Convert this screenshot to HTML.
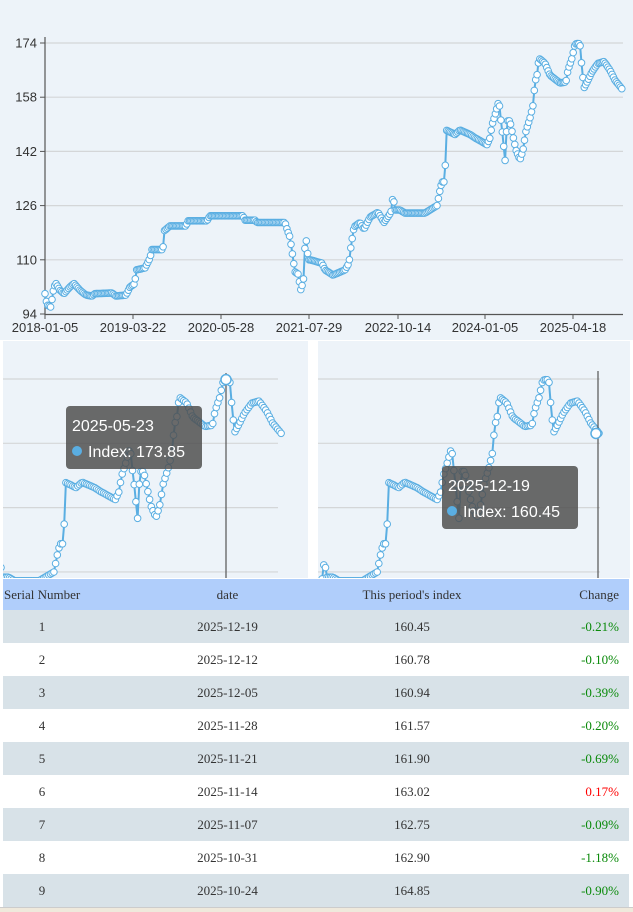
<!DOCTYPE html>
<html><head><meta charset="utf-8">
<style>
body{margin:0;width:633px;height:911px;background:#fff;overflow:hidden;font-family:"Liberation Sans",sans-serif;position:relative}
svg{position:absolute;left:0;top:0}
table{position:absolute;left:3px;top:579px;width:626px;border-collapse:collapse;table-layout:fixed;font-family:"Liberation Serif",serif;font-size:13px;color:#333}
td,th{height:33px;padding:0;font-weight:normal;text-align:center;white-space:nowrap}
th{height:31px;background:#b0cefb}
tr:nth-child(even) td{background:#d8e2e8}
.l{text-align:left;padding-left:1px}
.r{text-align:right;padding-right:10px}
.c2{padding-left:12px}
.g{color:#0a8a0a}.d{color:#f00}
#bot{position:absolute;left:0;top:907px;width:633px;height:4px;background:#efe9dc;border-top:1px solid #ccc}
</style></head><body>
<svg id="s" width="633" height="580" xmlns="http://www.w3.org/2000/svg"></svg>
<table>
<colgroup><col style="width:78px"><col style="width:281px"><col style="width:100px"><col style="width:167px"></colgroup>
<tr><th class="l">Serial Number</th><th class="c2">date</th><th>This period's index</th><th class="r">Change</th></tr>
<tr><td>1</td><td class="c2">2025-12-19</td><td>160.45</td><td class="r g">-0.21%</td></tr>
<tr><td>2</td><td class="c2">2025-12-12</td><td>160.78</td><td class="r g">-0.10%</td></tr>
<tr><td>3</td><td class="c2">2025-12-05</td><td>160.94</td><td class="r g">-0.39%</td></tr>
<tr><td>4</td><td class="c2">2025-11-28</td><td>161.57</td><td class="r g">-0.20%</td></tr>
<tr><td>5</td><td class="c2">2025-11-21</td><td>161.90</td><td class="r g">-0.69%</td></tr>
<tr><td>6</td><td class="c2">2025-11-14</td><td>163.02</td><td class="r d">0.17%</td></tr>
<tr><td>7</td><td class="c2">2025-11-07</td><td>162.75</td><td class="r g">-0.09%</td></tr>
<tr><td>8</td><td class="c2">2025-10-31</td><td>162.90</td><td class="r g">-1.18%</td></tr>
<tr><td>9</td><td class="c2">2025-10-24</td><td>164.85</td><td class="r g">-0.90%</td></tr>
</table>
<div id="bot"></div>
<script>
var W=[[45,100],[47,96.7],[51,96],[52,98.4],[54,102],[56,103],[60,101],[64,100],[70,102],[74,103],[80,101],[86,99.6],[92,99.3],[95,100],[112,100.2],[116,99.3],[126,99.6],[130,102],[135,103],[136,107],[145,107.6],[150,110.5],[152,113],[163,113],[164,118.5],[170,120],[186,120],[188,121.5],[207,121.5],[210,123],[243,123],[245,121.7],[255,121.7],[257,121],[285,121],[287,119],[290,116.7],[292,112.6],[295,106.4],[298,105.8],[300,102.5],[301,100.8],[304,105],[305,114],[307,116.4],[308,110],[310,110],[322,109],[325,107],[333,105.5],[345,107],[349,109],[351,114],[354,119.7],[360,121],[364,119],[370,122.6],[378,124],[384,121],[391,124],[393,129],[395,124.7],[400,124.7],[405,123.8],[425,123.8],[437,126],[440,130.6],[442,133],[445,133],[446,148.3],[455,147],[460,148.3],[470,147],[475,146],[487,144],[490,146],[492,149.8],[495,152.7],[499,157],[501,151],[503,146],[505,138.8],[507,151],[510,151],[512,148],[516,142.4],[520,139.5],[523,142.4],[526,148],[530,151.8],[533,155.6],[535,162.5],[537,164.5],[539,169.5],[545,168],[550,164.5],[560,162.2],[566,162.5],[568,166],[572,169.5],[575,173.7],[578,173.85],[580,173.7],[582,166.5],[584,160.7],[588,163],[592,165.5],[598,168],[604,168.5],[610,166],[615,163],[622,160.45]];
function val(x){for(var i=1;i<W.length;i++){if(x<=W[i][0]){var a=W[i-1],b=W[i];return a[1]+(b[1]-a[1])*(x-a[0])/(b[0]-a[0]);}}return W[W.length-1][1];}
var P=[];for(var x=45;x<=622.01;x+=1.39)P.push([x,val(x)]);
var h='';
h+='<rect x="0" y="0" width="633" height="340" fill="#edf3f9"/>';
[174,158,142,126,110].forEach(function(v){var y=314-(v-94)*3.3875;h+='<line x1="45" x2="623" y1="'+y+'" y2="'+y+'" stroke="#d4d6d8" stroke-width="1.2"/>';});
[174,158,142,126,110,94].forEach(function(v){var y=314-(v-94)*3.3875;h+='<text x="37" y="'+(y+4.5)+'" font-size="13" fill="#333" text-anchor="end">'+v+'</text><line x1="40" x2="45" y1="'+y+'" y2="'+y+'" stroke="#555"/>';});
h+='<line x1="45" x2="45" y1="37" y2="315" stroke="#555" stroke-width="1.2"/><line x1="45" x2="623" y1="314.5" y2="314.5" stroke="#555" stroke-width="1.2"/>';
[['2018-01-05',45],['2019-03-22',133],['2020-05-28',221],['2021-07-29',309],['2022-10-14',398],['2024-01-05',485],['2025-04-18',573]].forEach(function(t){h+='<line x1="'+t[1]+'" x2="'+t[1]+'" y1="314" y2="319" stroke="#555"/><text x="'+t[1]+'" y="332" font-size="13" fill="#333" text-anchor="middle">'+t[0]+'</text>';});
function series(fx,fy){var d='';P.forEach(function(p,i){d+=(i?'L':'M')+fx(p[0]).toFixed(1)+' '+fy(p[1]).toFixed(1);});var s='<path d="'+d+'" fill="none" stroke="#5aaee2" stroke-width="2"/>';P.forEach(function(p){s+='<circle cx="'+fx(p[0]).toFixed(1)+'" cy="'+fy(p[1]).toFixed(1)+'" r="3.3" fill="#fff" stroke="#5aaee2" stroke-width="1"/>';});return s;}
h+=series(function(x){return x},function(v){return 314-(v-94)*3.3875});
h+='<defs><clipPath id="c1"><rect x="3" y="341" width="305" height="237"/></clipPath><clipPath id="c2"><rect x="318" y="341" width="312" height="237"/></clipPath></defs>';
h+='<rect x="3" y="341" width="305" height="237" fill="#edf3f9"/><rect x="318" y="341" width="312" height="237" fill="#edf3f9"/>';
var fy2=function(v){return 379+(174-v)*4.02};
h+='<g clip-path="url(#c1)">';[174,158,142,126].forEach(function(v){h+='<line x1="3" x2="278" y1="'+fy2(v)+'" y2="'+fy2(v)+'" stroke="#d4d6d8" stroke-width="1.2"/>';});
h+=series(function(x){return 65+(x-446)*1.229},fy2);
h+='<line x1="226" x2="226" y1="373" y2="578" stroke="#555" stroke-width="1.2"/><circle cx="226" cy="379.6" r="5" fill="#fff" stroke="#5aaee2" stroke-width="1.5"/>';
h+='<rect x="66" y="406" width="136" height="63" rx="4" fill="rgba(80,80,80,0.85)"/><text x="72" y="431" font-size="16" fill="#fff">2025-05-23</text><circle cx="77" cy="451" r="5" fill="#5aaee2"/><text x="88" y="457" font-size="16" fill="#fff">Index: 173.85</text></g>';
h+='<g clip-path="url(#c2)">';[174,158,142,126].forEach(function(v){h+='<line x1="318" x2="600" y1="'+fy2(v)+'" y2="'+fy2(v)+'" stroke="#d4d6d8" stroke-width="1.2"/>';});
h+=series(function(x){return 388+(x-446)*1.2},fy2);
h+='<line x1="598" x2="598" y1="371" y2="578" stroke="#555" stroke-width="1.2"/><circle cx="596" cy="'+fy2(160.45)+'" r="5" fill="#fff" stroke="#5aaee2" stroke-width="1.5"/>';
h+='<rect x="442" y="466" width="136" height="63" rx="4" fill="rgba(80,80,80,0.85)"/><text x="448" y="491" font-size="16" fill="#fff">2025-12-19</text><circle cx="452" cy="511" r="5" fill="#5aaee2"/><text x="463" y="517" font-size="16" fill="#fff">Index: 160.45</text></g>';
document.getElementById('s').innerHTML=h;
</script>
</body></html>
